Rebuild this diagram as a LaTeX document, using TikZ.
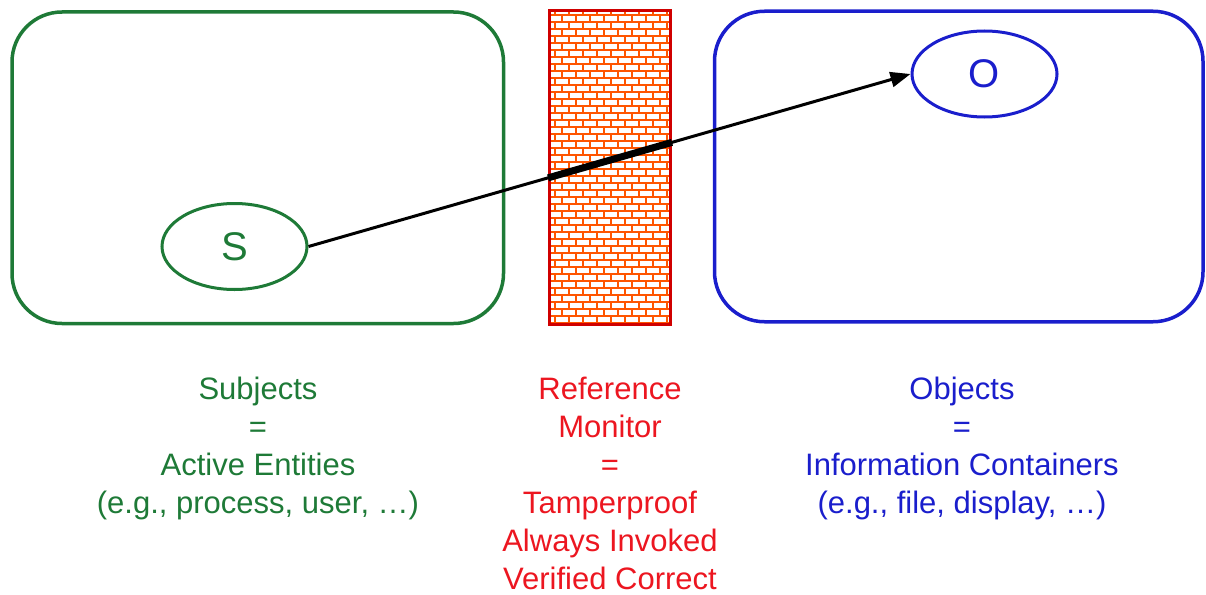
\documentclass[tikz,border=0pt]{standalone}
\usepackage{fontspec}
\setmainfont{Liberation Sans}
\usetikzlibrary{arrows.meta,shapes.geometric}
\definecolor{subjgreen}{RGB}{30,122,55}
\definecolor{objblue}{RGB}{26,30,204}
\definecolor{monred}{RGB}{236,22,32}
\definecolor{wallred}{RGB}{208,0,0}
\definecolor{brick}{RGB}{255,85,0}
\tikzset{
  domain box/.style={draw=#1, line width=3.5pt, rounded corners=50pt, inner sep=0pt},
  entity/.style={ellipse, draw=#1, text=#1, line width=3pt, inner sep=0pt,
    minimum width=145pt, minimum height=86pt, font=\fontsize{40}{48}\selectfont},
  caption/.style={align=center, anchor=north, inner sep=0pt, text=#1,
    font=\fontsize{31}{38}\selectfont},
}
\begin{document}
\begin{tikzpicture}[x=1pt,y=-1pt]
\useasboundingbox (0,0) rectangle (1206,594);

% subject and object domains
\node[domain box=subjgreen, minimum width=491.5pt, minimum height=311.5pt] (subj) at (257.75,167.75) {};
\node[domain box=objblue, minimum width=488.5pt, minimum height=310.5pt] (obj) at (958.75,166.5) {};

% the reference monitor as a brick wall
\begin{scope}
  \clip (549.5,10.5) rectangle (670.5,324.5);
  \fill[white] (549.5,10.5) rectangle (670.5,324.5);
  \foreach \k in {0,...,45} {
    \pgfmathsetmacro{\yy}{8+7*\k}
    \draw[brick, line width=2pt] (545,\yy) -- (675,\yy);
    \pgfmathsetmacro{\off}{mod(\k,2)==0 ? 0 : 7}
    \foreach \j in {0,...,9} {
      \pgfmathsetmacro{\xx}{541+\off+14*\j}
      \draw[brick, line width=2pt] (\xx,\yy) -- (\xx,\yy+7);
    }
  }
\end{scope}
\node[draw=wallred, line width=3pt, inner sep=0pt, minimum width=121pt, minimum height=314pt] (wall) at (610,167.5) {};

% subject and object
\node[entity=subjgreen] (S) at (234.5,246.5) {S};
\node[entity=objblue] (O) at (984.5,74) {O};

% access path, heavier where it passes the monitor
\draw[line width=3pt, -{Triangle[length=20pt,width=15pt]}] (S.east) -- (O.west);
\coordinate (win) at (intersection of S.east--O.west and wall.north west--wall.south west);
\coordinate (wout) at (intersection of S.east--O.west and wall.north east--wall.south east);
\draw[line width=7pt] (win) -- (wout);

% captions
\node[caption=subjgreen] (subjtext) at (258,377) {Subjects\\=\\Active Entities\\(e.g., process, user, \dots)};
\node[caption=monred] (montext) at (610,377) {Reference\\Monitor\\=\\Tamperproof\\Always Invoked\\Verified Correct};
\node[caption=objblue] (objtext) at (962,377) {Objects\\=\\Information Containers\\(e.g., file, display, \dots)};
\end{tikzpicture}
\end{document}
